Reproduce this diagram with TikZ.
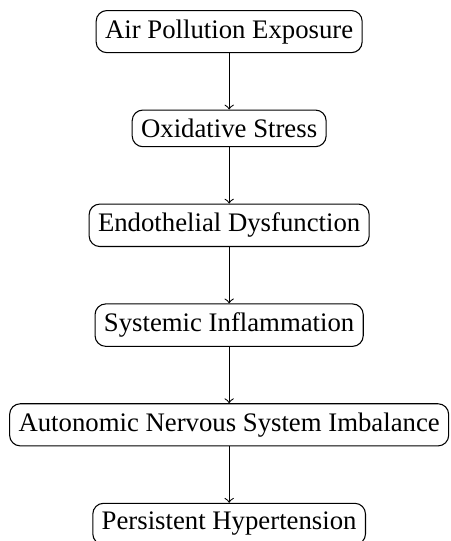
\documentclass[tikz,border=0pt]{standalone}
\usepackage{fontspec}
\setmainfont{Liberation Serif}
\usetikzlibrary{positioning,calc}
\begin{document}
\begin{tikzpicture}[node distance=0.74cm,
		stage/.style={draw,rounded corners}]
	\node[stage] (air) {Air Pollution Exposure};
	\node[stage,below=of air] (oxi) {Oxidative Stress};
	\node[stage,below=of oxi] (endo) {Endothelial Dysfunction};
	\node[stage,below=of endo] (infl) {Systemic Inflammation};
	\node[stage,below=of infl] (ans) {Autonomic Nervous System Imbalance};
	\node[stage,below=of ans] (hyp) {Persistent Hypertension};
	\draw[->] (air) -- (oxi);
	\draw[->] (oxi) -- (endo);
	\draw[->] (endo) -- (infl);
	\draw[->] (infl) -- (ans);
	\draw[->] (ans) -- (hyp);
	% frame as in the cropped original
	\pgfresetboundingbox
	\path[use as bounding box] let \p1=(ans.west), \p2=(ans.east), \p3=(air.north),
		\n1={(\x2-\x1+3.7pt)*1.2022} in
		(\x1-3.4pt,\y3+3.75pt) rectangle (\x2+0.3pt,\y3+3.75pt-\n1);
\end{tikzpicture}
\end{document}
